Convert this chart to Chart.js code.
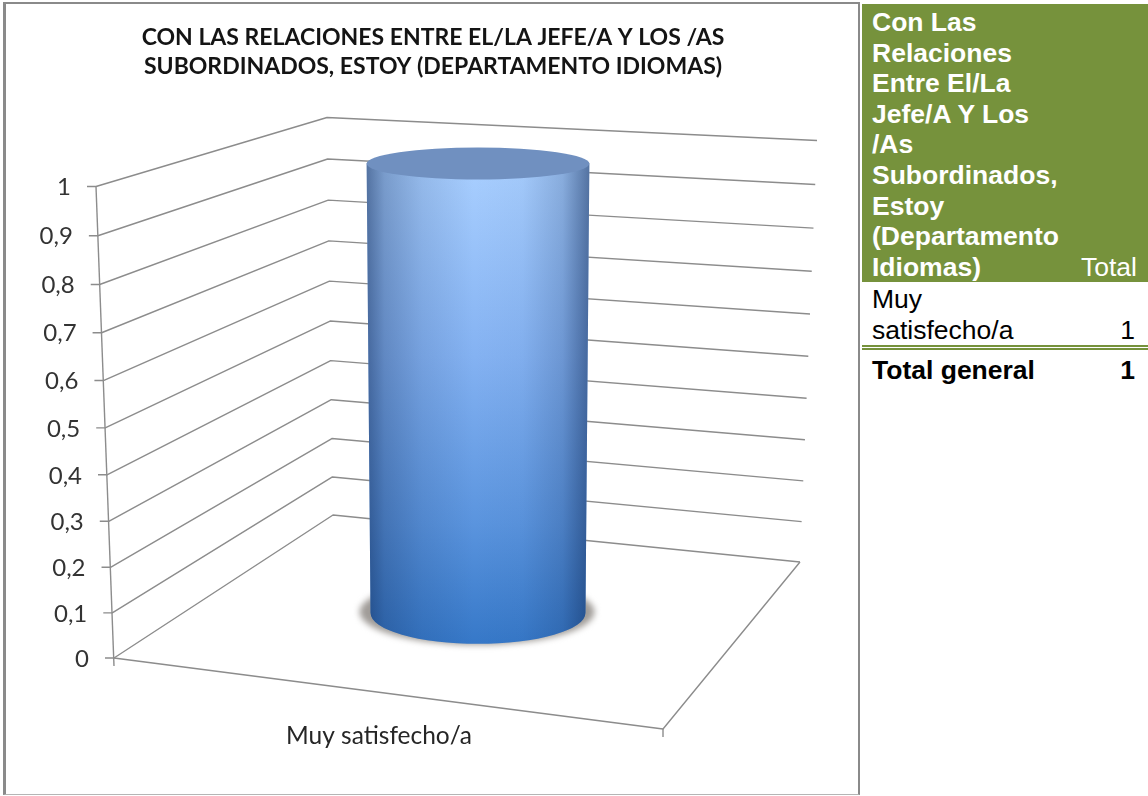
<!DOCTYPE html>
<html lang="es">
<head>
<meta charset="utf-8">
<title>Con las relaciones</title>
<script src="https://cdn.jsdelivr.net/npm/chart.js@4"></script>
<style>
  html, body { margin: 0; padding: 0; background: #fff; }
  body { position: relative; width: 1148px; height: 796px; overflow: hidden; }
  #frame {
    position: absolute; left: 3px; top: 2px; width: 852px; height: 790px;
    border: solid #8a8a8a; border-width: 2px 2px 1px 3px; border-bottom-color: #b5b5b5;
  }
  #chartBox { position: absolute; left: 0; top: 0; width: 860px; height: 796px; }
  #pivot {
    position: absolute; left: 862px; top: 4px; width: 286px;
    border-collapse: separate; border-spacing: 0; table-layout: fixed;
    font: 26.5px/30.6px "Liberation Sans", Arial, sans-serif; color: #000;
  }
  #pivot th { background: #76923c; color: #fff; text-align: left; vertical-align: bottom; padding: 3px 0 0 10px; height: 275px; }
  #pivot th.num { font-weight: normal; text-align: right; padding: 0 11px 0 0; }
  #pivot td { padding: 0 0 0 10px; vertical-align: bottom; }
  #pivot td.num { text-align: right; padding: 0 13px 0 0; }
  #pivot tr.item td { height: 63px; border-bottom: 5px double #76923c; }
  #pivot tr.total td { font-weight: bold; height: 34px; vertical-align: top; padding-top: 5px; }
</style>
</head>
<body>
<div id="frame"></div>
<div id="chartBox"><canvas id="cylinderChart" width="860" height="796"></canvas></div>
<table id="pivot"></table>

<script>
  var chartTitle = [
    "CON LAS RELACIONES ENTRE EL/LA JEFE/A Y LOS /AS",
    "SUBORDINADOS, ESTOY (DEPARTAMENTO IDIOMAS)",
  ];
  var categories = ["Muy satisfecho/a"];
  var seriesValues = [1];
  var yTickLabels = ["0", "0,1", "0,2", "0,3", "0,4", "0,5", "0,6", "0,7", "0,8", "0,9", "1"];

  var tableHeader = ["Con Las", "Relaciones", "Entre El/La", "Jefe/A Y Los", "/As", "Subordinados,", "Estoy", "(Departamento", "Idiomas)"];
  var tableValueHeader = "Total";
  var tableTotalLabel = "Total general";
  var tableTotals = [1];

  var GRID_COLOR = "#8c8c8c";
  var PERSPECTIVE = 0.047;

  // wall projection: the left wall leans and the upper ticks sit a bit further apart
  function wallPoints(yScale, value) {
    var bottom = yScale.getPixelForValue(0);
    var height = bottom - yScale.getPixelForValue(1);
    var share = (bottom - yScale.getPixelForValue(value)) / height;
    var rise = height * (share * (1 - PERSPECTIVE)) / (1 - PERSPECTIVE * share);
    return {
      front: { x: 114 - rise * 0.0382, y: bottom - rise },
      back: { x: 333 - rise * 0.0127, y: 515 - rise * 0.843 },
      right: { x: 800 + rise * 0.0361, y: 562 - rise * 0.894 },
    };
  }

  function segment(ctx, points) {
    ctx.beginPath();
    ctx.moveTo(points[0][0], points[0][1]);
    for (var i = 1; i < points.length; i++) ctx.lineTo(points[i][0], points[i][1]);
    ctx.stroke();
  }

  var wallsPlugin = {
    id: "walls",
    beforeDatasetsDraw: function (chart) {
      var ctx = chart.ctx;
      var yScale = chart.scales.y;
      ctx.save();
      ctx.strokeStyle = GRID_COLOR;
      ctx.lineWidth = 1.4;
      ctx.lineJoin = "round";

      yScale.ticks.forEach(function (tick) {
        var p = wallPoints(yScale, tick.value);
        segment(ctx, [[p.front.x - 9, p.front.y], [p.front.x, p.front.y], [p.back.x, p.back.y], [p.right.x, p.right.y]]);
      });

      var top = wallPoints(yScale, 1);
      var base = wallPoints(yScale, 0);
      segment(ctx, [[top.front.x, top.front.y], [base.front.x, base.front.y + 8]]);
      // floor
      segment(ctx, [[base.front.x, base.front.y], [663, 729], [base.right.x, base.right.y]]);
      segment(ctx, [[663, 729], [663, 737]]);
      ctx.restore();
    },
  };

  // draws the bar element as a cylinder standing in the middle of the floor
  var cylinderPlugin = {
    id: "cylinder",
    beforeDatasetDraw: function (chart, args) {
      var ctx = chart.ctx;
      var bar = args.meta.data[0];
      var cx = bar.x;
      var rxTop = bar.width / 2;
      var rxBottom = rxTop * 0.965;
      var yTop = bar.y * 0.953 - 14.2;
      var yBottom = bar.base * 0.953 - 14.2;
      var ryTop = 16;
      var ryBottom = 31;

      ctx.save();
      // shadow on the floor
      ctx.save();
      ctx.filter = "blur(3px)";
      ctx.fillStyle = "#a09c98";
      ctx.beginPath();
      ctx.ellipse(cx - 1, yBottom - 1, rxBottom + 10, ryBottom + 2, 0, 0, Math.PI * 2);
      ctx.fill();
      ctx.restore();

      // body
      ctx.beginPath();
      ctx.moveTo(cx - rxTop, yTop);
      ctx.lineTo(cx - rxBottom, yBottom);
      ctx.ellipse(cx, yBottom, rxBottom, ryBottom, 0, Math.PI, 0, true);
      ctx.lineTo(cx + rxTop, yTop);
      ctx.closePath();
      ctx.save();
      ctx.clip();

      var vertical = ctx.createLinearGradient(0, yTop, 0, yBottom + ryBottom);
      vertical.addColorStop(0, "#a9cfff");
      vertical.addColorStop(0.4, "#84b2f2");
      vertical.addColorStop(0.75, "#5a94de");
      vertical.addColorStop(1, "#3678c8");
      ctx.fillStyle = vertical;
      ctx.fillRect(cx - rxTop - 2, yTop - 2, rxTop * 2 + 4, yBottom + ryBottom - yTop + 4);

      var horizontal = ctx.createLinearGradient(cx - rxTop, 0, cx + rxTop, 0);
      horizontal.addColorStop(0, "rgba(15,40,85,0.55)");
      horizontal.addColorStop(0.08, "rgba(15,40,85,0.3)");
      horizontal.addColorStop(0.25, "rgba(15,40,85,0.12)");
      horizontal.addColorStop(0.48, "rgba(15,40,85,0)");
      horizontal.addColorStop(0.7, "rgba(15,40,85,0.03)");
      horizontal.addColorStop(0.88, "rgba(15,40,85,0.2)");
      horizontal.addColorStop(1, "rgba(15,40,85,0.55)");
      ctx.fillStyle = horizontal;
      ctx.fillRect(cx - rxTop - 2, yTop - 2, rxTop * 2 + 4, yBottom + ryBottom - yTop + 4);
      ctx.restore();

      // top face
      ctx.fillStyle = "#7090c0";
      ctx.beginPath();
      ctx.ellipse(cx, yTop, rxTop, ryTop, 0, 0, Math.PI * 2);
      ctx.fill();
      ctx.restore();
      return false;
    },
  };

  // tick labels follow the leaning wall, category label sits under the front edge
  var labelShiftPlugin = {
    id: "labelShift",
    afterUpdate: function (chart) {
      var yScale = chart.scales.y;
      yScale.getLabelItems(chart.chartArea).forEach(function (item, i) {
        var p = wallPoints(yScale, yScale.ticks[i].value);
        item.options.translation[0] = p.front.x - 25;
        item.options.translation[1] = p.front.y + 1;
      });
      chart.scales.x.getLabelItems(chart.chartArea).forEach(function (item) {
        item.options.translation[0] -= 99;
      });
      // title is centred on the whole frame, not on the plot
      chart.titleBlock.left += 9;
      chart.titleBlock.right += 9;
    },
  };

  function buildTable() {
    var head = "<tr><th>" + tableHeader.join("<br>") + "</th><th class='num'>" + tableValueHeader + "</th></tr>";
    var rows = categories.map(function (cat, i) {
      return "<tr class='item'><td>" + cat.replace(" ", "<br>") + "</td><td class='num'>" + seriesValues[i] + "</td></tr>";
    }).join("");
    var total = "<tr class='total'><td>" + tableTotalLabel + "</td><td class='num'>" + tableTotals[0] + "</td></tr>";
    document.getElementById("pivot").innerHTML =
      "<colgroup><col style='width:205px'><col style='width:81px'></colgroup>" + head + rows + total;
  }

  buildTable();

  new Chart(document.getElementById("cylinderChart").getContext("2d"), {
    type: "bar",
    data: {
      labels: categories,
      datasets: [
        {
          data: seriesValues,
          backgroundColor: "#5a94de",
          barPercentage: 0.306,
          categoryPercentage: 1,
        },
      ],
    },
    plugins: [wallsPlugin, cylinderPlugin, labelShiftPlugin],
    options: {
      responsive: false,
      animation: false,
      events: [],
      layout: { padding: { left: 6, right: 18, top: 0, bottom: 0 } },
      plugins: {
        legend: { display: false },
        tooltip: { enabled: false },
        title: {
          display: true,
          text: chartTitle,
          color: "#141414",
          font: { family: "Lato", size: 23, weight: "bold", lineHeight: 1.25 },
          padding: { top: 23, bottom: 106 },
        },
      },
      scales: {
        x: {
          grid: { display: false },
          border: { display: false },
          ticks: { color: "#262626", font: { family: "Lato", size: 24.5 }, padding: 55, maxRotation: 0 },
          afterFit: function (scale) { scale.height = 138; },
        },
        y: {
          min: 0,
          max: 1,
          grid: { display: false },
          border: { display: false },
          ticks: {
            stepSize: 0.1,
            color: "#333333",
            font: { family: "Lato", size: 24 },
            callback: function (value, index) { return yTickLabels[index]; },
          },
          afterFit: function (scale) { scale.width = 108; },
        },
      },
    },
  });
</script>
</body>
</html>
